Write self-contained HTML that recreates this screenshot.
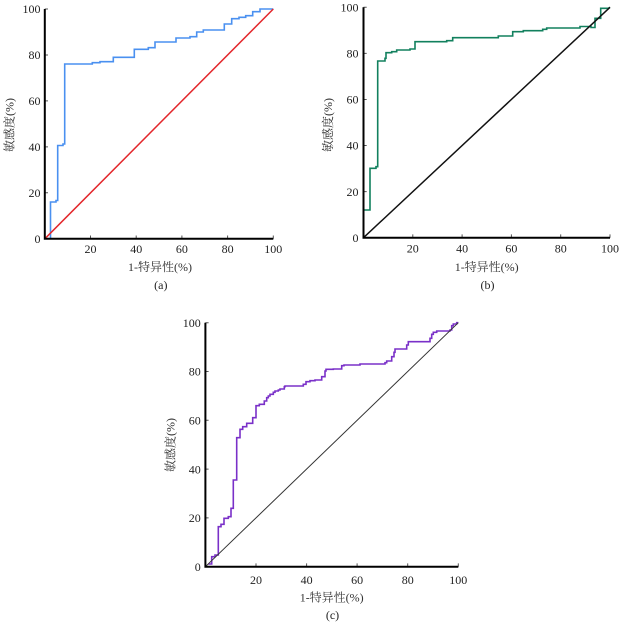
<!DOCTYPE html>
<html>
<head>
<meta charset="utf-8">
<style>
  html, body { margin:0; padding:0; background:#fff; }
  svg { display:block; }
  .t { font-family:"Liberation Serif","Noto Serif CJK SC",serif; font-size:12px; fill:#222; }
  .c { font-family:"Liberation Serif","Noto Serif CJK SC",serif; font-size:12px; fill:#333; }
</style>
</head>
<body>
<svg width="621" height="625" viewBox="0 0 621 625" xmlns="http://www.w3.org/2000/svg">
  <rect x="0" y="0" width="621" height="625" fill="#fff"/>

  <!-- ===== Panel (a) ===== -->
  <g fill="none">
    <!-- curve -->
    <path d="M50.5,238.8 V202 H56 V200.5 H57.7 V145.5 H63 V144 H64.7 V64 H92.3 V62.7 H100 V61.7 H113.3 V57.3 H134.3 V49.3 H148.3 V47.7 H155 V42 H176 V38 H190 V36.7 H196.7 V32 H203.3 V30 H224.3 V24 H231.7 V18.7 H239 V17.3 H245.7 V15.7 H252.7 V11.7 H260 V9 H273.3" stroke="#4a90f0" stroke-width="1.6"/>
    <!-- diagonal -->
    <path d="M44.8,238.8 L273.3,9" stroke="#e3262b" stroke-width="1.5"/>
    <!-- ticks -->
    <path d="M44.8,9 H48 M44.8,55 H48 M44.8,100.9 H48 M44.8,146.9 H48 M44.8,192.8 H48 M90.5,238.8 V235.5 M136.2,238.8 V235.5 M181.9,238.8 V235.5 M227.6,238.8 V235.5 M273.3,238.8 V235.5" stroke="#555" stroke-width="1"/>
    <!-- axes -->
    <path d="M44.8,9 V238.8 H273.3" stroke="#000" stroke-width="2"/>
  </g>
  <g class="t" text-anchor="end">
    <text x="40.5" y="13.2">100</text>
    <text x="40.5" y="59.2">80</text>
    <text x="40.5" y="105.1">60</text>
    <text x="40.5" y="151.1">40</text>
    <text x="40.5" y="197">20</text>
    <text x="40.5" y="243">0</text>
  </g>
  <g class="t" text-anchor="middle">
    <text x="90.5" y="253">20</text>
    <text x="136.2" y="253">40</text>
    <text x="181.9" y="253">60</text>
    <text x="227.6" y="253">80</text>
    <text x="273.3" y="253">100</text>
  </g>
  <text class="c" x="160" y="271" text-anchor="middle">1-特异性(%)</text>
  <text class="t" x="160.8" y="289" text-anchor="middle">(a)</text>
  <text class="c" transform="translate(13.5,125) rotate(-90)" text-anchor="middle">敏感度(%)</text>

  <!-- ===== Panel (b) ===== -->
  <g fill="none">
    <path d="M363.5,210 H370 V168.3 H376 V166.7 H377.7 V61 H385 V58.3 H386 V52.7 H391.7 V51.7 H396.7 V50 H410 V49 H415 V41.7 H446.7 V40.7 H452.7 V37.7 H498.3 V36 H512.7 V31.7 H523.3 V30.7 H542.7 V29.3 H546.7 V28 H580 V26.5 H591 V27.5 H595 V18.3 H600.7 V8.3 H608.3 L610,7.3" stroke="#12805e" stroke-width="1.6"/>
    <path d="M363.5,237.7 L610,7.3" stroke="#111" stroke-width="1.5"/>
    <path d="M363.5,7.3 H366.7 M363.5,53.4 H366.7 M363.5,99.5 H366.7 M363.5,145.5 H366.7 M363.5,191.6 H366.7 M412.8,237.7 V234.4 M462.1,237.7 V234.4 M511.4,237.7 V234.4 M560.7,237.7 V234.4 M610,237.7 V234.4" stroke="#555" stroke-width="1"/>
    <path d="M363.5,7.3 V237.7 H610" stroke="#000" stroke-width="2"/>
  </g>
  <g class="t" text-anchor="end">
    <text x="358.5" y="11.5">100</text>
    <text x="358.5" y="57.6">80</text>
    <text x="358.5" y="103.7">60</text>
    <text x="358.5" y="149.7">40</text>
    <text x="358.5" y="195.8">20</text>
    <text x="358.5" y="241.9">0</text>
  </g>
  <g class="t" text-anchor="middle">
    <text x="412.8" y="252.7">20</text>
    <text x="462.1" y="252.7">40</text>
    <text x="511.4" y="252.7">60</text>
    <text x="560.7" y="252.7">80</text>
    <text x="610" y="252.7">100</text>
  </g>
  <text class="c" x="486.7" y="271" text-anchor="middle">1-特异性(%)</text>
  <text class="t" x="487.5" y="289" text-anchor="middle">(b)</text>
  <text class="c" transform="translate(332,125) rotate(-90)" text-anchor="middle">敏感度(%)</text>

  <!-- ===== Panel (c) ===== -->
  <g fill="none">
    <path d="M208.3,564 H211.7 V556.7 H215 V555 H218.3 V526.7 H221 V524.3 H224 V518.3 H228.3 V516.7 H231 V508.3 H233.3 V480 H236.7 V437.7 H240 V429.3 H242.7 V426.7 H246.7 V423.3 H252.7 V417.7 H256 V405.7 H259.3 V404.3 H264.3 V401 H266.7 V397.7 H268.3 V396 H270 V394.3 H273.3 V392.3 H275 V391 H278.3 V390 H280 V389 H284.3 V386.7 H285 V386 H303.3 V384.3 H306 V381.7 H310 V380.7 H315 V380 H321.7 V376.7 H325 V371 H326 V369.3 H333.3 V369 H341.7 V365.7 H344 V365 H360 V364 H385 V362.7 H386.7 V361 H391.7 V356.7 H394 V352.3 H395 V349 H406.7 V345 H408.3 V341.7 H430 V338.3 H431.7 V334.3 H433.3 V332.3 H436.7 V331 H450 V330 H451.7 V325.7 H453.3 V324 H456.7 V322.7 H458.3" stroke="#7a30c8" stroke-width="1.6"/>
    <path d="M205.4,566.7 L458.3,322.7" stroke="#333" stroke-width="1"/>
    <path d="M205.4,322.7 H208.6 M205.4,371.5 H208.6 M205.4,420.3 H208.6 M205.4,469.1 H208.6 M205.4,517.9 H208.6 M256,566.7 V563.4 M306.6,566.7 V563.4 M357.1,566.7 V563.4 M407.7,566.7 V563.4 M458.3,566.7 V563.4" stroke="#555" stroke-width="1"/>
    <path d="M205.4,322.7 V566.7 H458.3" stroke="#000" stroke-width="2"/>
  </g>
  <g class="t" text-anchor="end">
    <text x="200.8" y="326.9">100</text>
    <text x="200.8" y="375.7">80</text>
    <text x="200.8" y="424.5">60</text>
    <text x="200.8" y="473.3">40</text>
    <text x="200.8" y="522.1">20</text>
    <text x="200.8" y="570.9">0</text>
  </g>
  <g class="t" text-anchor="middle">
    <text x="256" y="584">20</text>
    <text x="306.6" y="584">40</text>
    <text x="357.1" y="584">60</text>
    <text x="407.7" y="584">80</text>
    <text x="458.3" y="584">100</text>
  </g>
  <text class="c" x="331.7" y="601.5" text-anchor="middle">1-特异性(%)</text>
  <text class="t" x="332.5" y="619" text-anchor="middle">(c)</text>
  <text class="c" transform="translate(174.5,445) rotate(-90)" text-anchor="middle">敏感度(%)</text>
</svg>
</body>
</html>
